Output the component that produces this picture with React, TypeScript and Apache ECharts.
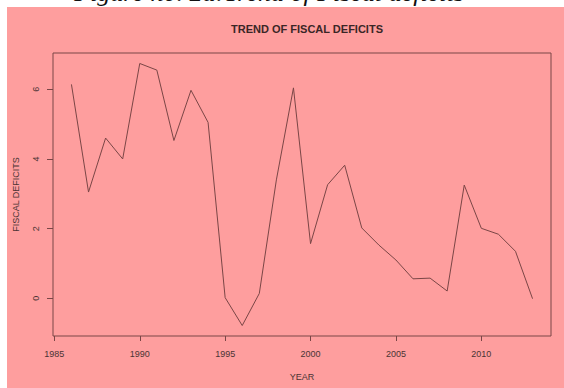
import React, { useEffect, useRef } from "react";
import * as echarts from "echarts";

const years = [
  1986, 1987, 1988, 1989, 1990, 1991, 1992, 1993, 1994, 1995, 1996, 1997, 1998, 1999,
  2000, 2001, 2002, 2003, 2004, 2005, 2006, 2007, 2008, 2009, 2010, 2011, 2012, 2013,
];
const fiscalDeficits = [
  6.14, 3.05, 4.6, 4.0, 6.74, 6.55, 4.53, 5.97, 5.05, 0.02, -0.78, 0.14, 3.4, 6.04,
  1.57, 3.26, 3.82, 2.02, 1.53, 1.1, 0.56, 0.58, 0.21, 3.25, 2.01, 1.84, 1.35, -0.01,
];
const xTicks = [1985, 1990, 1995, 2000, 2005, 2010];
const yTicks = [0, 2, 4, 6];

const chartTitle = "TREND OF FISCAL DEFICITS";
const xName = "YEAR";
const yName = "FISCAL DEFICITS";
const caption = "Figure no. 2a:Trend of Fiscal deficits";

const INK = "#7a4646";
const TEXT = "#4a3434";
const PINK = "#fe9e9e";

export default function App() {
  const ref = useRef<HTMLDivElement>(null);

  useEffect(() => {
    if (!ref.current) return;
    const chart = echarts.init(ref.current, undefined, { renderer: "svg" });

    // R-style 4% axis padding
    const xMinD = Math.min(...years);
    const xMaxD = Math.max(...years);
    const yMinD = Math.min(...fiscalDeficits);
    const yMaxD = Math.max(...fiscalDeficits);
    const xPad = (xMaxD - xMinD) * 0.04;
    const yPad = (yMaxD - yMinD) * 0.04;

    const data = years.map((y, i) => [y, fiscalDeficits[i]]);

    chart.setOption({
      animation: false,
      backgroundColor: "transparent",
      title: {
        text: chartTitle,
        left: 302,
        textAlign: "center",
        top: 18,
        textStyle: {
          fontFamily: "Liberation Sans, Arial, sans-serif",
          fontSize: 11,
          fontWeight: "bold",
          color: "#3a2626",
        },
      },
      graphic: [
        {
          type: "text",
          x: 269,
          y: -8,
          style: {
            text: caption,
            fontFamily: "Liberation Serif, Times New Roman, serif",
            fontStyle: "italic",
            fontSize: 26,
            fill: "#111",
            align: "center",
            verticalAlign: "middle",
          },
        },
      ],
      grid: {
        left: 53,
        right: 13,
        top: 53,
        bottom: 52,
        show: true,
        borderColor: INK,
        borderWidth: 1,
        backgroundColor: "transparent",
      },
      xAxis: {
        type: "value",
        min: xMinD - xPad,
        max: xMaxD + xPad,
        name: xName,
        nameLocation: "middle",
        nameGap: 36,
        nameTextStyle: {
          fontFamily: "Liberation Sans, Arial, sans-serif",
          fontSize: 9,
          color: TEXT,
        },
        axisLine: { show: false, onZero: false },
        splitLine: { show: false },
        axisTick: {
          show: true,
          inside: false,
          length: 5,
          lineStyle: { color: INK, width: 1 },
          customValues: xTicks,
        },
        axisLabel: {
          show: true,
          margin: 13,
          fontFamily: "Liberation Sans, Arial, sans-serif",
          fontSize: 9,
          color: TEXT,
          customValues: xTicks,
          formatter: (v: number) => String(Math.round(v)),
        },
      },
      yAxis: {
        type: "value",
        min: yMinD - yPad,
        max: yMaxD + yPad,
        name: yName,
        nameLocation: "middle",
        nameGap: 33,
        nameRotate: 90,
        nameTextStyle: {
          fontFamily: "Liberation Sans, Arial, sans-serif",
          fontSize: 9,
          color: TEXT,
        },
        axisLine: { show: false, onZero: false },
        splitLine: { show: false },
        axisTick: {
          show: true,
          inside: false,
          length: 6,
          lineStyle: { color: INK, width: 1 },
          customValues: yTicks,
        },
        axisLabel: {
          show: true,
          rotate: 90,
          margin: 13,
          fontFamily: "Liberation Sans, Arial, sans-serif",
          fontSize: 9,
          color: TEXT,
          customValues: yTicks,
          formatter: (v: number) => String(Math.round(v)),
        },
      },
      series: [
        {
          type: "line",
          data,
          symbol: "none",
          lineStyle: { color: INK, width: 1 },
        },
      ],
    });

    return () => {
      chart.dispose();
    };
  }, []);

  return (
    <div
      style={{
        position: "fixed",
        left: 0,
        top: 0,
        width: 564,
        height: 388,
        background: "#ffffff",
        overflow: "hidden",
      }}
    >
      <div
        style={{
          position: "absolute",
          left: 7,
          top: 7,
          width: 557,
          height: 381,
          background: PINK,
        }}
      />
      <div
        ref={ref}
        style={{ position: "absolute", left: 0, top: 0, width: 564, height: 388 }}
      />
    </div>
  );
}
